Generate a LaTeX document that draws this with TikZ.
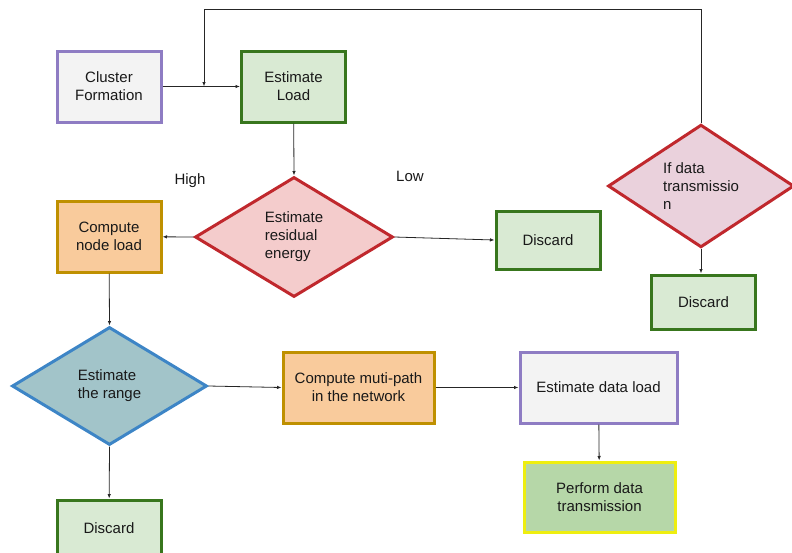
\documentclass[tikz,border=0pt]{standalone}
\usepackage{fontspec}
\setmainfont{Liberation Sans}
\usetikzlibrary{shapes.geometric,arrows.meta}

\definecolor{lilac}{HTML}{8E7CC3}
\definecolor{paleg}{HTML}{F3F3F3}
\definecolor{leaf}{HTML}{38761D}
\definecolor{mint}{HTML}{D9EAD3}
\definecolor{peach}{HTML}{F9CB9C}
\definecolor{ochre}{HTML}{BF9000}
\definecolor{brick}{HTML}{C0282D}
\definecolor{rose}{HTML}{F4CCCC}
\definecolor{mauve}{HTML}{EAD1DC}
\definecolor{sky}{HTML}{3D85C6}
\definecolor{teal}{HTML}{A2C4C9}
\definecolor{lemon}{HTML}{EEEE10}
\definecolor{sage}{HTML}{B6D7A8}

\begin{document}
\begin{tikzpicture}[x=1pt,y=-1pt,
    every node/.style={font=\fontsize{15}{18}\selectfont,text=black!90},
    box/.style={draw,line width=3pt,minimum width=104pt,minimum height=71pt,align=center},
    purplebox/.style={box,draw=lilac,fill=paleg},
    greenbox/.style={box,draw=leaf,fill=mint},
    orangebox/.style={box,draw=ochre,fill=peach},
    yellowbox/.style={box,draw=lemon,fill=sage},
    decision/.style={diamond,draw,line width=3pt,inner sep=0pt,align=left},
    flow/.style={-{Latex[length=4.5pt,width=3.5pt]},line width=0.8pt,black!85}]
  \useasboundingbox (0,0) rectangle (792,552);

  % top row
  \node[purplebox] (cluster) at (109,86.5) {Cluster\\Formation};
  \node[greenbox] (estload) at (293.5,86.5) {Estimate\\Load};

  % decisions
  \node[decision,draw=brick,fill=rose,minimum width=198pt,minimum height=120pt] (resid) at (294,237) {Estimate\\residual\\energy};
  \node[decision,draw=brick,fill=mauve,minimum width=186pt,minimum height=118pt] (ifdata) at (701,186) {If data\\transmissio\\n};
  \node[decision,draw=sky,fill=teal,minimum width=195pt,minimum height=118pt] (range) at (109.5,386) {Estimate\\the range};

  \node (high) at (190,181) {High};
  \node (low) at (410,176) {Low};

  % boxes
  \node[orangebox] (nodeload) at (109,236.5) {Compute\\node load};
  \node[greenbox,minimum height=58pt] (discard1) at (548,240) {Discard};
  \node[greenbox,minimum height=54pt] (discard2) at (703.5,302) {Discard};
  \node[greenbox,minimum height=56pt] (discard3) at (109,528) {Discard};
  \node[orangebox,minimum width=151pt] (multipath) at (358.5,387.5) {Compute muti-path\\in the network};
  \node[purplebox,minimum width=157pt] (dataload) at (598.5,387.5) {Estimate data load};
  \node[yellowbox,minimum width=151pt,minimum height=70pt] (perform) at (599.5,497) {Perform data\\transmission};

  % connectors
  \coordinate (join) at (204,86.5);
  \coordinate (loop) at (204,9);
  \draw[flow] (cluster) -- (estload);
  \draw[flow] (ifdata.north) |- (loop) -- (join);
  \draw[flow] (estload) -- (resid.north);
  \draw[flow] (resid.west) -- (nodeload);
  \draw[flow] (resid.east) -- (discard1.west);
  \draw[flow] (ifdata.south) -- (ifdata.south |- discard2.north);
  \draw[flow] (nodeload) -- (range.north);
  \draw[flow] (range.east) -- (multipath.west);
  \draw[flow] (range.south) -- (discard3);
  \draw[flow] (multipath) -- (dataload);
  \draw[flow] (dataload) -- (perform);
\end{tikzpicture}
\end{document}
